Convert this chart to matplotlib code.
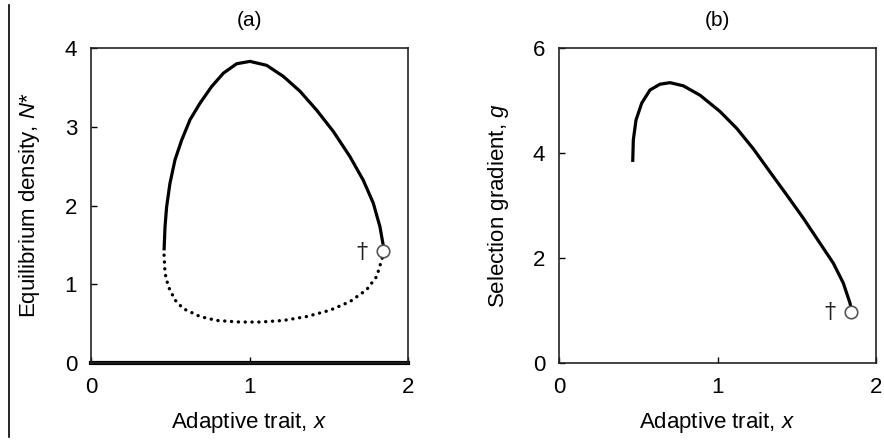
import matplotlib
matplotlib.use("Agg")
import matplotlib.pyplot as plt
from matplotlib.lines import Line2D

plt.rcParams['font.family'] = ['Liberation Sans', 'DejaVu Sans']
plt.rcParams['mathtext.fontset'] = 'custom'
plt.rcParams['mathtext.rm'] = 'Liberation Sans'
plt.rcParams['mathtext.it'] = 'Liberation Sans:italic'

# Panel (a): equilibrium density (stable upper branch, unstable lower branch)
upper_x = [0.461, 0.467, 0.477, 0.498, 0.530, 0.572, 0.625, 0.688, 0.761, 0.835, 0.919, 1.003,
           1.108, 1.213, 1.319, 1.424, 1.529, 1.634, 1.718, 1.781, 1.823, 1.845]
upper_y = [1.43, 1.73, 1.98, 2.28, 2.58, 2.83, 3.09, 3.30, 3.51, 3.68, 3.80, 3.83,
           3.78, 3.64, 3.45, 3.21, 2.94, 2.62, 2.32, 2.03, 1.73, 1.48]
lower_x = [0.461, 0.467, 0.488, 0.530, 0.582, 0.688, 0.793, 0.940, 1.066, 1.213, 1.361,
           1.508, 1.634, 1.739, 1.803, 1.834, 1.845]
lower_y = [1.37, 1.14, 0.97, 0.80, 0.69, 0.59, 0.54, 0.52, 0.52, 0.54, 0.59,
           0.67, 0.78, 0.93, 1.10, 1.31, 1.38]
extinct_x = [0.0, 2.0]
extinct_y = [0.0, 0.0]
circle_a = (1.845, 1.42)
dagger_a = (1.708, 1.41)

# Panel (b): selection gradient
grad_x = [0.465, 0.469, 0.486, 0.522, 0.574, 0.637, 0.700, 0.784, 0.890, 1.016, 1.121, 1.226,
          1.331, 1.437, 1.541, 1.647, 1.731, 1.794, 1.836, 1.842]
grad_y = [3.83, 4.25, 4.63, 4.95, 5.20, 5.31, 5.34, 5.28, 5.10, 4.79, 4.47, 4.08,
          3.64, 3.20, 2.76, 2.28, 1.90, 1.52, 1.14, 1.05]
circle_b = (1.842, 0.98)
dagger_b = (1.710, 0.97)

fig = plt.figure(figsize=(8.84, 4.41), dpi=100)
W, H = 884, 441
axa = fig.add_axes([91 / W, 1 - 363 / H, 317 / W, 315 / H])
axb = fig.add_axes([559 / W, 1 - 363 / H, 317 / W, 315 / H])

for ax in (axa, axb):
    ax.set_xlim(0, 2)
    ax.set_xticks([0, 1, 2])
    ax.tick_params(direction='in', length=4, width=1, labelsize=16, pad=10)
    for s in ax.spines.values():
        s.set_linewidth(1.2)
        s.set_color('#222222')
    ax.set_xlabel('Adaptive trait, $x$', fontsize=16, labelpad=9)

axa.set_ylim(0, 4)
axa.set_yticks([0, 1, 2, 3, 4])
axa.plot(upper_x, upper_y, color='black', lw=2.3, solid_capstyle='butt', solid_joinstyle='round')
axa.plot(lower_x, lower_y, color='black', lw=2.4, linestyle=(0, (0.05, 2.0)), dash_capstyle='round')
axa.plot(extinct_x, extinct_y, color='black', lw=3, clip_on=False)
axa.plot(*circle_a, marker='o', ms=9, mfc='white', mec='#555555', mew=1.2, zorder=5)
axa.text(*dagger_a, '†', fontsize=16, ha='center', va='center', family='DejaVu Serif', color='#222222')
axa.set_ylabel('Equilibrium density, $N$*', fontsize=16, labelpad=16)
axa.set_title('(a)', fontsize=15, pad=16)

axb.set_ylim(0, 6)
axb.set_yticks([0, 2, 4, 6])
axb.plot(grad_x, grad_y, color='black', lw=2.3, solid_capstyle='butt', solid_joinstyle='round')
axb.plot(*circle_b, marker='o', ms=9, mfc='white', mec='#555555', mew=1.2, zorder=5)
axb.text(*dagger_b, '†', fontsize=16, ha='center', va='center', family='DejaVu Serif', color='#222222')
axb.set_ylabel('Selection gradient, $g$', fontsize=16, labelpad=16)
axb.set_title('(b)', fontsize=15, pad=16)

fig.add_artist(Line2D([9 / W, 9 / W], [1 - 5 / H, 1 - 437 / H], color='black', lw=1.2))

fig.savefig('out.png', dpi=100)
